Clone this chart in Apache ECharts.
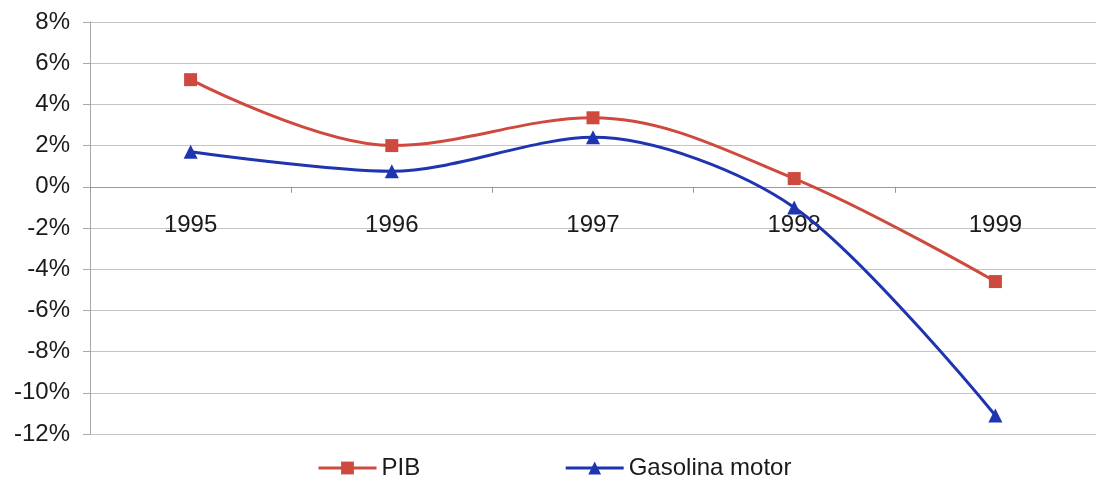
<!DOCTYPE html>
<html>
<head>
<meta charset="utf-8">
<script src="https://cdn.jsdelivr.net/npm/echarts@6/dist/echarts.min.js"></script>
<style>
  html, body { margin: 0; padding: 0; background: #ffffff; }
  #chart { width: 1096px; height: 477px; }
</style>
</head>
<body>
<div id="chart"></div>
<script>
// Annual growth rates, in percent
const years = ['1995', '1996', '1997', '1998', '1999'];
const pib = [5.2, 2.0, 3.35, 0.4, -4.6];
const gasolinaMotor = [1.7, 0.75, 2.4, -1.0, -11.1];

const yMin = -12;
const yMax = 8;
const yStep = 2;

const textColor = '#1a1a1a';
const fontFamily = '"Liberation Sans", Arial, sans-serif';

const gridTop = 22;
const gridBottom = 43;
const chartHeight = 477;

// place the category axis on the zero line
const plotHeight = chartHeight - gridTop - gridBottom;
const zeroOffset = -plotHeight * (0 - yMin) / (yMax - yMin);

const chart = echarts.init(document.getElementById('chart'));
chart.setOption({
  backgroundColor: '#ffffff',
  animation: false,
  grid: { left: 90, top: gridTop, bottom: gridBottom, right: -9, containLabel: false },
  legend: {
    left: 312,
    top: 451,
    itemWidth: 58,
    itemHeight: 16,
    itemGap: 144,
    lineStyle: { width: 3 },
    textStyle: { fontSize: 24, color: textColor, fontFamily: fontFamily },
    data: ['PIB', 'Gasolina motor']
  },
  xAxis: {
    type: 'category',
    data: years,
    boundaryGap: true,
    offset: zeroOffset,
    axisLine: { onZero: false, lineStyle: { color: '#9a9a9a', width: 1 } },
    axisTick: { show: true, length: 6, lineStyle: { color: '#9a9a9a' } },
    axisLabel: { margin: 27, fontSize: 24, color: textColor, fontFamily: fontFamily },
    splitLine: { show: false }
  },
  yAxis: {
    type: 'value',
    min: yMin,
    max: yMax,
    interval: yStep,
    axisLine: { show: true, lineStyle: { color: '#a8a8a8', width: 1 } },
    axisTick: { show: true, length: 7, lineStyle: { color: '#a8a8a8' } },
    axisLabel: { formatter: '{value}%', margin: 20, fontSize: 24, color: textColor, fontFamily: fontFamily },
    splitLine: { show: true, lineStyle: { color: '#c4c4c4', width: 1 } }
  },
  series: [
    {
      name: 'PIB',
      type: 'line',
      data: pib,
      smooth: 0.35,
      symbol: 'rect',
      symbolSize: 13,
      lineStyle: { color: '#cf4a3e', width: 3 },
      itemStyle: { color: '#cf4a3e' }
    },
    {
      name: 'Gasolina motor',
      type: 'line',
      data: gasolinaMotor,
      smooth: 0.3,
      symbol: 'triangle',
      symbolSize: 14,
      lineStyle: { color: '#1f35b0', width: 3 },
      itemStyle: { color: '#1f35b0' }
    }
  ]
});
</script>
</body>
</html>
